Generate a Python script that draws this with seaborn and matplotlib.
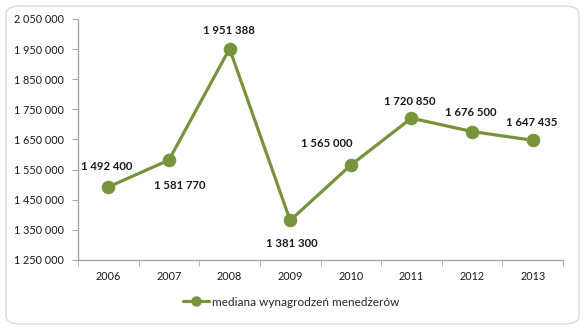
import matplotlib
matplotlib.use("Agg")
import matplotlib.pyplot as plt
from matplotlib.patches import FancyBboxPatch
from matplotlib.lines import Line2D
import seaborn as sns
import pandas as pd

years = [2006, 2007, 2008, 2009, 2010, 2011, 2012, 2013]
values = [1492400, 1581770, 1951388, 1381300, 1565000, 1720850, 1676500, 1647435]
series_name = "mediana wynagrodzeń menedżerów"
yticks = [1250000, 1350000, 1450000, 1550000, 1650000, 1750000, 1850000, 1950000, 2050000]

# label offsets in pixels (style only)
label_dx = [-2, 11, -1, 2, -24, -2, -1, -1]
label_dy = [20, -25, 18, -23, 22, 17, 19, 18]

sns.set_style("white")
plt.rcParams['font.family'] = ['Lato', 'DejaVu Sans']

color = "#77933C"
df = pd.DataFrame({"year": years, "value": values})

fig = plt.figure(figsize=(5.85, 3.29), dpi=100)
ax = fig.add_axes([78/585, 69/329, (563-78)/585, (260-19)/329])

border = FancyBboxPatch((6/585, 5/329), 573/585, 318/329,
                        boxstyle="round,pad=0,rounding_size=0.025",
                        transform=fig.transFigure, facecolor="none",
                        edgecolor="#d9d9d9", linewidth=1.0)
fig.patches.append(border)

sns.lineplot(data=df, x="year", y="value", ax=ax, color=color, linewidth=2.3,
             marker="o", markersize=9, markeredgecolor=color, legend=False)

def fmt(v):
    return f"{v:,}".replace(",", " ")

for x, v, dx, dy in zip(years, values, label_dx, label_dy):
    ax.annotate(fmt(v), (x, v), xytext=(dx, dy), textcoords="offset pixels",
                ha="center", va="center", fontsize=8.2, fontweight="bold",
                color="#1a1a1a")

ax.set_xlim(2005.5, 2013.5)
ax.set_ylim(1250000, 2050000)
ax.set_yticks(yticks)
ax.set_yticklabels([fmt(v) for v in yticks])
ax.set_xticks(years)
ax.set_xticklabels([str(y) for y in years])
ax.set_xticks([y + 0.5 for y in [2005] + years], minor=True)
ax.tick_params(axis="x", which="major", length=0, pad=8, labelsize=7.8, colors="#1a1a1a")
ax.tick_params(axis="x", which="minor", length=4, color="#a6a6a6", direction="out", bottom=True)
ax.tick_params(axis="y", which="major", length=4, color="#a6a6a6", direction="out",
               left=True, pad=6, labelsize=7.8, colors="#1a1a1a")
ax.set_xlabel("")
ax.set_ylabel("")
for s in ["top", "right"]:
    ax.spines[s].set_visible(False)
for s in ["left", "bottom"]:
    ax.spines[s].set_color("#a6a6a6")
    ax.spines[s].set_linewidth(1.0)

handle = Line2D([], [], color=color, linewidth=2.3, marker="o", markersize=6.5)
fig.legend([handle], [series_name], loc="center", bbox_to_anchor=(291/585, 1 - 302/329),
           frameon=False, fontsize=8.5, handlelength=2.2, handletextpad=0.25)

fig.savefig("out.png", dpi=100)
